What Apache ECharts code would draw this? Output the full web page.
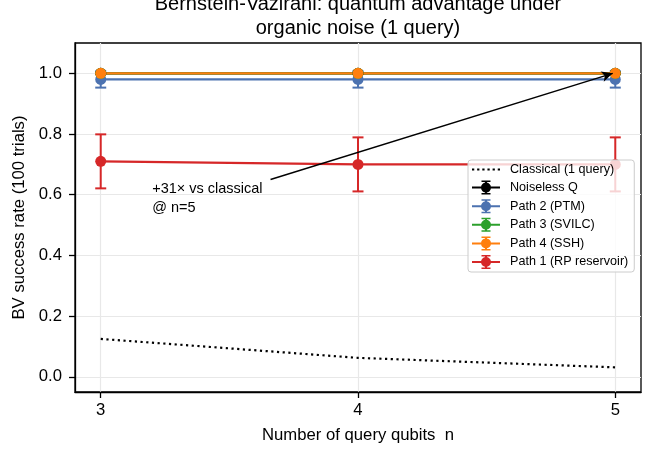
<!DOCTYPE html>
<html>
<head>
<meta charset="utf-8">
<script src="https://cdn.jsdelivr.net/npm/echarts@6/dist/echarts.min.js"></script>
<style>
html,body{margin:0;padding:0;background:#fff;}
#chart{width:662px;height:451px;}
</style>
</head>
<body>
<div id="chart"></div>
<script>
const nQubits = [3, 4, 5];
const classical = [0.125, 0.0625, 0.03125];
const noiselessQ = [1.0, 1.0, 1.0];
const noiselessErr = [0, 0, 0];
const path2 = [0.98, 0.98, 0.98];
const path2Err = [0.027, 0.027, 0.027];
const path3 = [1.0, 1.0, 1.0];
const path3Err = [0, 0, 0];
const path4 = [1.0, 1.0, 1.0];
const path4Err = [0, 0, 0];
const path1 = [0.71, 0.70, 0.70];
const path1Err = [0.089, 0.089, 0.089];
const yTicks = [0.0, 0.2, 0.4, 0.6, 0.8, 1.0];
const xTicks = [3, 4, 5];
const annotText = '+31× vs classical\n@ n=5';
const annotFrom = [3.66, 0.65];
const annotTo = [4.99, 1.0];
const annotTextAt = [3.2, 0.65];

const FONT = '"Liberation Sans", Arial, sans-serif';
const ebIcon = 'path://M0 6H28V8H0Z M13 1H15V13H13Z M9.5 0H18.5V1.5H9.5Z M9.5 12.5H18.5V14H9.5Z M9 7A5 5 0 1 1 19 7A5 5 0 1 1 9 7Z';
const dotIcon = 'path://M0 0H2.2V2H0Z M5 0H7.2V2H5Z M10 0H12.2V2H10Z M15 0H17.2V2H15Z M20 0H22.2V2H20Z M25 0H27.2V2H25Z';

function pts(ys) { return nQubits.map((x, i) => [x, ys[i]]); }

function errSeries(name, ys, errs, color) {
  return {
    type: 'custom', name: name + ' err', silent: true,
    data: nQubits.map((x, i) => [x, ys[i], errs[i]]),
    renderItem: function (params, api) {
      const x = api.value(0), y = api.value(1), e = api.value(2);
      const top = api.coord([x, y + e]);
      const bot = api.coord([x, y - e]);
      const hw = 5.5;
      const st = { stroke: color, lineWidth: 2 };
      return {
        type: 'group', children: [
          { type: 'line', shape: { x1: top[0], y1: top[1], x2: bot[0], y2: bot[1] }, style: st },
          { type: 'line', shape: { x1: top[0] - hw, y1: top[1], x2: top[0] + hw, y2: top[1] }, style: st },
          { type: 'line', shape: { x1: bot[0] - hw, y1: bot[1], x2: bot[0] + hw, y2: bot[1] }, style: st }
        ]
      };
    }
  };
}
function lineSeries(name, ys, color) {
  return {
    type: 'line', name: name, data: pts(ys), color: color,
    symbol: 'circle', symbolSize: 11, showSymbol: true,
    lineStyle: { width: 2.2, color: color }, itemStyle: { color: color },
    animation: false
  };
}

const C = { black: '#000000', blue: '#4c72b0', green: '#2ca02c', orange: '#ff7f0e', red: '#d62728' };

const series = [
  {
    type: 'line', name: 'Classical (1 query)', data: pts(classical), color: '#000',
    symbol: 'none', lineStyle: { width: 2.2, color: '#000', type: [2.2, 3.5] }, animation: false,
    markLine: {
      silent: true, animation: false, symbolSize: [0, 0],
      lineStyle: { color: '#000', width: 1.5, type: 'solid' }, label: { show: false },
      data: [[{ coord: annotFrom, symbol: 'none' }, { coord: annotTo, symbol: 'arrow', symbolSize: [8, 11] }]]
    },
    markPoint: {
      silent: true, animation: false, symbol: 'circle', symbolSize: 0,
      data: [{ coord: annotTextAt, value: 0 }],
      label: {
        show: true, position: 'right', distance: 0, formatter: annotText,
        color: '#000', fontSize: 14.5, fontFamily: FONT, lineHeight: 19, align: 'left', verticalAlign: 'top'
      }
    }
  },
  errSeries('Noiseless Q', noiselessQ, noiselessErr, C.black),
  lineSeries('Noiseless Q', noiselessQ, C.black),
  errSeries('Path 2 (PTM)', path2, path2Err, C.blue),
  lineSeries('Path 2 (PTM)', path2, C.blue),
  errSeries('Path 3 (SVILC)', path3, path3Err, C.green),
  lineSeries('Path 3 (SVILC)', path3, C.green),
  errSeries('Path 4 (SSH)', path4, path4Err, C.orange),
  lineSeries('Path 4 (SSH)', path4, C.orange),
  errSeries('Path 1 (RP reservoir)', path1, path1Err, C.red),
  lineSeries('Path 1 (RP reservoir)', path1, C.red)
];

const chart = echarts.init(document.getElementById('chart'), null, { renderer: 'canvas' });
chart.setOption({
  animation: false,
  backgroundColor: '#fff',
  textStyle: { fontFamily: FONT },
  title: {
    text: 'Bernstein-Vazirani: quantum advantage under\norganic noise (1 query)',
    left: 358, top: -7, padding: 0, itemGap: 0,
    textAlign: 'center',
    textStyle: { fontSize: 20, fontWeight: 'normal', color: '#000', fontFamily: FONT, lineHeight: 23.5, align: 'center' }
  },
  grid: { left: 75, right: 21, top: 43, bottom: 59, show: true, borderColor: '#000', borderWidth: 1.3, backgroundColor: 'transparent' },
  xAxis: {
    type: 'value', min: 2.9, max: 5.1,
    name: 'Number of query qubits  n', nameLocation: 'middle', nameGap: 35,
    nameTextStyle: { fontSize: 16.7, color: '#000', fontFamily: FONT },
    axisLine: { show: true, onZero: false, lineStyle: { color: '#000', width: 1.3 } },
    axisTick: { show: true, inside: false, length: 6, lineStyle: { color: '#000', width: 1.3 }, customValues: xTicks },
    axisLabel: { color: '#000', fontSize: 16.7, fontFamily: FONT, margin: 10, customValues: xTicks },
    splitLine: { show: true, lineStyle: { color: '#e8e8e8', width: 1.2 } }
  },
  yAxis: {
    type: 'value', min: -0.05, max: 1.1,
    name: 'BV success rate (100 trials)', nameLocation: 'middle', nameGap: 44,
    nameTextStyle: { fontSize: 16.7, color: '#000', fontFamily: FONT },
    axisLine: { show: true, onZero: false, lineStyle: { color: '#000', width: 1.3 } },
    axisTick: { show: true, inside: false, length: 6, lineStyle: { color: '#000', width: 1.3 }, customValues: yTicks },
    axisLabel: { color: '#000', fontSize: 16.7, fontFamily: FONT, margin: 13, customValues: yTicks, formatter: v => v.toFixed(1) },
    splitLine: { show: true, lineStyle: { color: '#e8e8e8', width: 1.2 } }
  },
  legend: {
    left: 468, top: 160, orient: 'vertical',
    data: [
      { name: 'Classical (1 query)', icon: dotIcon },
      { name: 'Noiseless Q', icon: ebIcon },
      { name: 'Path 2 (PTM)', icon: ebIcon },
      { name: 'Path 3 (SVILC)', icon: ebIcon },
      { name: 'Path 4 (SSH)', icon: ebIcon },
      { name: 'Path 1 (RP reservoir)', icon: ebIcon }
    ],
    itemWidth: 28, itemHeight: 14, itemGap: 4.6,
    padding: [3, 6, 3, 4],
    backgroundColor: 'rgba(255,255,255,0.8)', borderColor: '#cccccc', borderWidth: 1, borderRadius: 3,
    textStyle: { fontSize: 12.6, color: '#000', fontFamily: FONT, padding: [0, 0, 0, 5] },
    selectedMode: false
  },
  series: series
});
</script>
</body>
</html>
